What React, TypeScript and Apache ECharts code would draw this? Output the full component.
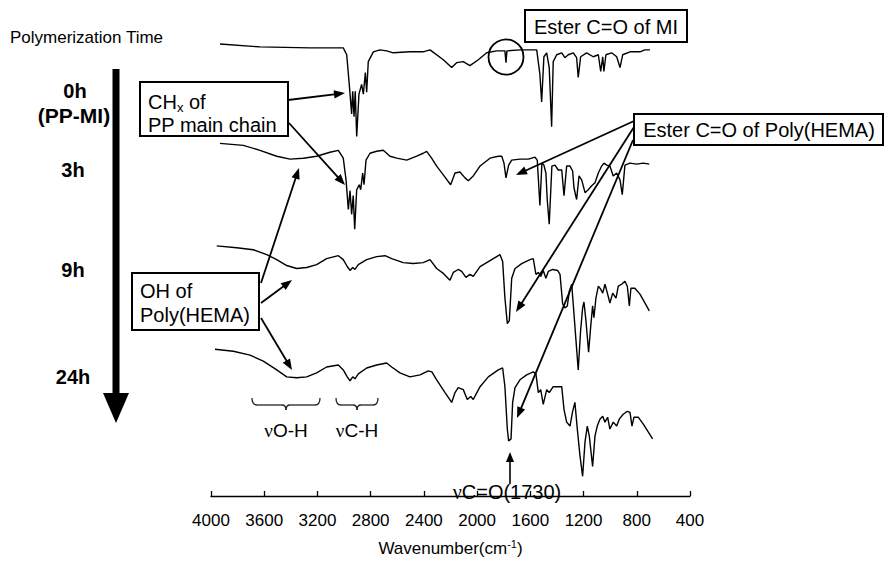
import React, { useEffect, useRef } from 'react';
import * as echarts from 'echarts';

// Wavenumber axis ticks (cm-1)
const xTicks = [400, 800, 1200, 1600, 2000, 2400, 2800, 3200, 3600, 4000];
const traceLabels = ['0h', '3h', '9h', '24h'];

// Spectra: [wavenumber (cm-1), offset intensity (a.u.)]
const spectrum0h: [number, number][] = [
  [3932, 459], [3632, 456], [3256, 455], [3006, 455], [2980, 448], [2961, 418], [2943, 388], [2935, 411],
  [2925, 385], [2916, 411], [2905, 365], [2888, 408], [2868, 418], [2855, 408], [2840, 430], [2830, 410],
  [2818, 441], [2780, 451], [2730, 453], [2680, 452], [2630, 450], [2505, 451], [2405, 451], [2354, 453],
  [2254, 443], [2191, 435], [2154, 440], [2104, 441], [2054, 437], [1991, 443], [1928, 450], [1853, 452],
  [1791, 452], [1783, 440], [1776, 452], [1678, 453], [1552, 453], [1528, 428], [1515, 400], [1498, 446],
  [1477, 450], [1458, 435], [1440, 375], [1428, 441], [1402, 448], [1364, 450], [1340, 445], [1315, 448],
  [1277, 450], [1252, 445], [1240, 425], [1222, 446], [1177, 450], [1127, 446], [1089, 448], [1071, 431],
  [1056, 446], [1047, 431], [1032, 448], [989, 450], [951, 446], [926, 435], [906, 448], [851, 451],
  [776, 451], [739, 453], [701, 453],
];

const spectrum3h: [number, number][] = [
  [3932, 358], [3757, 356], [3632, 351], [3506, 345], [3406, 342], [3306, 343], [3206, 345], [3106, 349],
  [3043, 351], [3006, 343], [2985, 321], [2968, 291], [2955, 310], [2943, 286], [2931, 305], [2920, 271],
  [2905, 311], [2886, 316], [2875, 311], [2860, 328], [2850, 316], [2835, 341], [2805, 348], [2755, 350],
  [2705, 351], [2655, 345], [2604, 343], [2529, 341], [2454, 345], [2405, 348], [2379, 350], [2342, 343],
  [2304, 335], [2254, 326], [2199, 316], [2166, 328], [2129, 329], [2091, 323], [2066, 320], [2029, 325],
  [1978, 335], [1903, 343], [1841, 345], [1815, 345], [1798, 338], [1783, 323], [1763, 336], [1740, 341],
  [1678, 342], [1615, 342], [1565, 344], [1548, 341], [1528, 295], [1513, 338], [1498, 336], [1483, 328],
  [1473, 301], [1458, 276], [1438, 335], [1415, 336], [1390, 331], [1364, 331], [1347, 305], [1327, 335],
  [1302, 335], [1282, 330], [1272, 313], [1252, 301], [1234, 325], [1214, 321], [1189, 308], [1165, 311],
  [1139, 315], [1114, 318], [1089, 328], [1064, 335], [1047, 338], [1026, 336], [1002, 335], [977, 325],
  [951, 328], [926, 321], [909, 306], [889, 336], [851, 338], [801, 337], [751, 338], [706, 337],
];

const spectrum9h: [number, number][] = [
  [3957, 254], [3807, 252], [3682, 250], [3581, 245], [3506, 240], [3431, 234], [3356, 231], [3281, 232],
  [3206, 235], [3131, 241], [3043, 244], [3006, 240], [2976, 233], [2955, 229], [2935, 232], [2918, 230],
  [2893, 235], [2830, 240], [2755, 243], [2692, 244], [2642, 241], [2555, 237], [2480, 236], [2405, 237],
  [2354, 240], [2304, 231], [2254, 226], [2204, 219], [2179, 227], [2142, 230], [2116, 228], [2084, 222],
  [2054, 225], [2029, 223], [1978, 233], [1903, 239], [1828, 245], [1808, 238], [1791, 201], [1773, 175],
  [1758, 178], [1740, 221], [1715, 231], [1665, 236], [1603, 240], [1578, 241], [1558, 225], [1540, 227],
  [1522, 223], [1503, 229], [1483, 221], [1465, 228], [1432, 230], [1395, 229], [1377, 225], [1357, 195],
  [1340, 191], [1322, 193], [1307, 208], [1289, 215], [1272, 185], [1257, 158], [1240, 128], [1222, 168],
  [1207, 191], [1197, 197], [1182, 178], [1162, 146], [1147, 171], [1132, 193], [1122, 181], [1107, 201],
  [1089, 213], [1071, 210], [1056, 206], [1039, 215], [1021, 206], [1002, 196], [981, 206], [956, 201],
  [939, 213], [914, 215], [889, 218], [871, 213], [856, 193], [844, 211], [814, 211], [776, 205],
  [739, 196], [706, 188],
];

const spectrum24h: [number, number][] = [
  [3970, 149], [3832, 147], [3707, 143], [3607, 137], [3506, 128], [3431, 121], [3356, 120], [3281, 121],
  [3206, 125], [3131, 131], [3043, 133], [3006, 128], [2976, 121], [2955, 117], [2935, 121], [2918, 119],
  [2893, 124], [2830, 130], [2755, 133], [2680, 135], [2642, 131], [2580, 125], [2505, 121], [2429, 123],
  [2367, 127], [2340, 126], [2304, 118], [2241, 105], [2191, 95], [2166, 105], [2142, 110], [2104, 108],
  [2074, 98], [2048, 101], [2029, 98], [1978, 111], [1916, 121], [1841, 128], [1808, 130], [1791, 111],
  [1773, 68], [1763, 56], [1745, 58], [1733, 95], [1715, 110], [1678, 118], [1628, 123], [1578, 126],
  [1558, 124], [1540, 105], [1522, 108], [1503, 93], [1477, 108], [1458, 105], [1428, 111], [1390, 111],
  [1364, 111], [1347, 88], [1327, 75], [1302, 71], [1282, 86], [1265, 95], [1247, 68], [1227, 41],
  [1207, 20], [1189, 55], [1172, 71], [1157, 61], [1132, 30], [1114, 61], [1097, 71], [1077, 78],
  [1056, 81], [1039, 75], [1019, 80], [1002, 68], [977, 75], [951, 71], [932, 78], [902, 83],
  [871, 86], [851, 85], [836, 71], [821, 80], [789, 80], [751, 73], [714, 65], [681, 58],
];

const spectra = [spectrum0h, spectrum3h, spectrum9h, spectrum24h];

const FONT = '"Liberation Sans", Arial, Helvetica, sans-serif';
const SERIF = '"Liberation Serif", "DejaVu Serif", serif';

function arrow(x1: number, y1: number, x2: number, y2: number, lw = 1.8, head = 11, half = 4.2): any[] {
  const dx = x2 - x1;
  const dy = y2 - y1;
  const L = Math.hypot(dx, dy);
  const ux = dx / L;
  const uy = dy / L;
  const bx = x2 - ux * head;
  const by = y2 - uy * head;
  const px = -uy;
  const py = ux;
  return [
    { type: 'line', shape: { x1, y1, x2: x2 - ux * head * 0.6, y2: y2 - uy * head * 0.6 }, style: { stroke: '#000', lineWidth: lw }, z: 20 },
    { type: 'polygon', shape: { points: [[x2, y2], [bx + px * half, by + py * half], [bx - px * half, by - py * half]] }, style: { fill: '#000' }, z: 20 },
  ];
}

function brace(xa: number, xb: number, xm: number, yTop: number, yMid: number, yTip: number): any[] {
  const s = { stroke: '#222', lineWidth: 1.3, fill: 'none' };
  return [
    { type: 'bezierCurve', shape: { x1: xa, y1: yTop, x2: xa + 5, y2: yMid, cpx1: xa, cpy1: yMid }, style: s },
    { type: 'line', shape: { x1: xa + 5, y1: yMid, x2: xm - 4, y2: yMid }, style: s },
    { type: 'bezierCurve', shape: { x1: xm - 4, y1: yMid, x2: xm, y2: yTip, cpx1: xm, cpy1: yMid }, style: s },
    { type: 'bezierCurve', shape: { x1: xm, y1: yTip, x2: xm + 4, y2: yMid, cpx1: xm, cpy1: yMid }, style: s },
    { type: 'line', shape: { x1: xm + 4, y1: yMid, x2: xb - 5, y2: yMid }, style: s },
    { type: 'bezierCurve', shape: { x1: xb - 5, y1: yMid, x2: xb, y2: yTop, cpx1: xb, cpy1: yMid }, style: s },
  ];
}

function txt(text: string, x: number, y: number, size: number, align = 'left', bold = false): any {
  return {
    type: 'text',
    x,
    y,
    z: 30,
    style: {
      text,
      fill: '#000',
      fontSize: size,
      fontFamily: FONT,
      fontWeight: bold ? 'bold' : 'normal',
      align,
      textAlign: align,
      verticalAlign: 'middle',
      textVerticalAlign: 'middle',
    },
  };
}

function nuTxt(rest: string, x: number, y: number, size: number): any {
  return {
    type: 'text',
    x,
    y,
    z: 30,
    style: {
      text: '{n|\u03bd}{r|' + rest + '}',
      fill: '#000',
      align: 'center',
      verticalAlign: 'middle',
      rich: {
        n: { fontSize: size, fontFamily: SERIF, fill: '#000', lineHeight: size + 4 },
        r: { fontSize: size, fontFamily: FONT, fill: '#000', lineHeight: size + 4 },
      },
    },
  };
}

function box(x: number, y: number, w: number, h: number): any {
  return { type: 'rect', z: 25, shape: { x, y, width: w, height: h }, style: { fill: '#fff', stroke: '#000', lineWidth: 2 } };
}

export default function App() {
  const ref = useRef<HTMLDivElement>(null);

  useEffect(() => {
    if (!ref.current) return;
    const chart = echarts.init(ref.current, undefined, { renderer: 'svg' });

    const labelY = [91, 170, 270, 377];

    const graphic: any[] = [
      txt('Polymerization Time', 10, 37, 17),
      // big time arrow
      { type: 'rect', shape: { x: 112.5, y: 69, width: 7, height: 325 }, style: { fill: '#000' } },
      { type: 'polygon', shape: { points: [[103, 393], [129, 393], [116, 423]] }, style: { fill: '#000' } },
      txt(traceLabels[0], 75, labelY[0], 20, 'center', true),
      txt('(PP-MI)', 74, 115, 21, 'center', true),
      txt(traceLabels[1], 73, labelY[1], 20, 'center', true),
      txt(traceLabels[2], 73, labelY[2], 20, 'center', true),
      txt(traceLabels[3], 73, labelY[3], 20, 'center', true),

      // CHx box
      box(140, 82, 148, 54),
      {
        type: 'text',
        x: 148,
        y: 102,
        z: 30,
        style: {
          text: '{a|CH}{s|x}{a| of}',
          fill: '#000',
          align: 'left',
          verticalAlign: 'middle',
          rich: {
            a: { fontSize: 20, fontFamily: FONT, fill: '#000', lineHeight: 24 },
            s: { fontSize: 13, fontFamily: FONT, fill: '#000', lineHeight: 8, verticalAlign: 'bottom' },
          },
        },
      },
      txt('PP main chain', 148, 125, 20),
      ...arrow(288, 100, 345, 93),
      ...arrow(289, 123, 345, 185),

      // Ester C=O of MI
      box(525, 10, 162, 32),
      txt('Ester C=O of MI', 606, 27, 20, 'center'),
      { type: 'circle', shape: { cx: 506, cy: 57, r: 17.5 }, style: { stroke: '#000', lineWidth: 1.8, fill: 'none' }, z: 20 },

      // Ester C=O of Poly(HEMA)
      ...arrow(634, 121, 516, 175),
      ...arrow(634, 127, 516, 312),
      ...arrow(633, 140, 517, 418),
      box(634, 114, 249, 31),
      txt('Ester C=O of Poly(HEMA)', 759, 130, 20, 'center'),

      // OH of Poly(HEMA)
      ...arrow(261, 283, 299, 168),
      ...arrow(261, 303, 292, 280),
      ...arrow(261, 318, 292, 370),
      box(132, 273, 127, 57),
      txt('OH of', 140, 291, 20),
      txt('Poly(HEMA)', 140, 315, 20),

      // braces
      ...brace(252, 320, 286, 398, 405, 410),
      ...brace(336, 378, 357, 398, 405, 410),
      nuTxt('O-H', 286, 430, 19),
      nuTxt('C-H', 357, 430, 19),

      // nu C=O (1730)
      ...arrow(510, 484, 510, 452, 1.6, 10, 4),
      nuTxt('C=O(1730)', 507, 492, 20),
    ];

    chart.setOption({
      animation: false,
      textStyle: { fontFamily: FONT },
      grid: { left: 211, right: 198, top: 40, bottom: 60, containLabel: false },
      xAxis: {
        type: 'value',
        inverse: true,
        min: xTicks[0],
        max: xTicks[xTicks.length - 1],
        interval: xTicks[1] - xTicks[0],
        name: 'Wavenumber(cm{sup|-1})',
        nameLocation: 'middle',
        nameGap: 42,
        nameTextStyle: {
          color: '#000',
          fontSize: 17,
          fontFamily: FONT,
          lineHeight: 20,
          rich: { sup: { fontSize: 11, fontFamily: FONT, color: '#000', lineHeight: 10, verticalAlign: 'top' } },
        },
        axisLine: { show: true, onZero: false, lineStyle: { color: '#000', width: 1.3 } },
        axisTick: { show: true, inside: true, length: 5, lineStyle: { color: '#000', width: 1.3 } },
        axisLabel: { color: '#000', fontSize: 17, fontFamily: FONT, margin: 16, formatter: (v: number) => String(v) },
        splitLine: { show: false },
      },
      yAxis: { type: 'value', min: 0, max: 463, show: false },
      series: spectra.map((d, i) => ({
        type: 'line',
        name: traceLabels[i],
        data: d,
        showSymbol: false,
        symbol: 'none',
        silent: true,
        clip: false,
        lineStyle: { color: '#000', width: 1.4 },
        itemStyle: { color: '#000' },
      })),
      graphic,
    });

    return () => chart.dispose();
  }, []);

  return <div ref={ref} style={{ position: 'fixed', left: 0, top: 0, width: 888, height: 563, background: '#fff' }} />;
}
